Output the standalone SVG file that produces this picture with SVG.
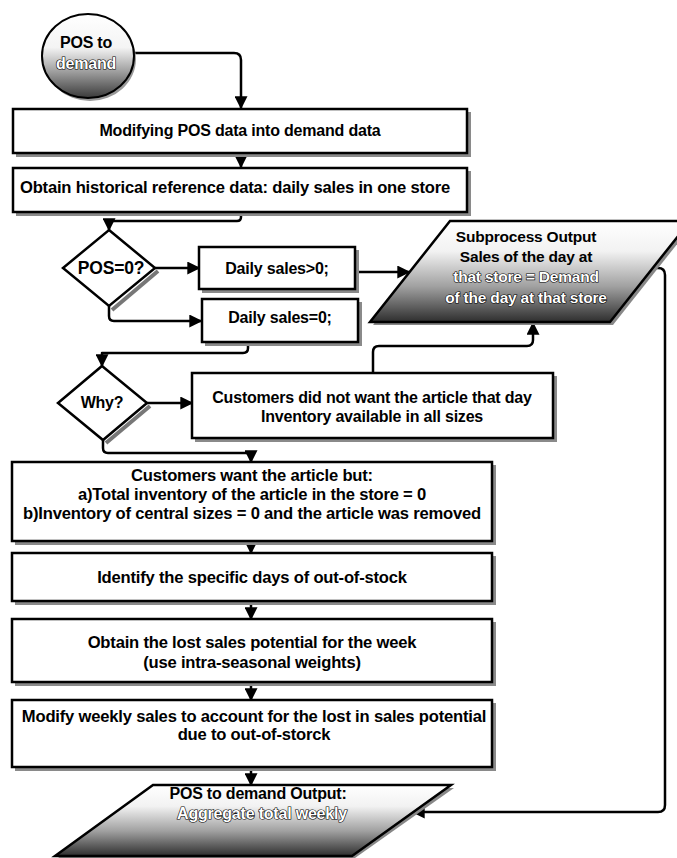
<svg xmlns="http://www.w3.org/2000/svg" width="677" height="858" viewBox="0 0 677 858">
<style>
  .box { fill: #ffffff; stroke: #000; stroke-width: 2.5; }
  .shadow { fill: #8a8a8a; stroke: none; }
  .dia { fill: #ffffff; stroke: #000; stroke-width: 2.5; stroke-linejoin: miter; }
  .dshadow { fill: none; stroke: #777; stroke-width: 4; }
  .t { font-family: "Liberation Sans", Arial, sans-serif; font-weight: bold; font-size: 16px; fill: #000; text-anchor: middle; letter-spacing: -0.2px; }
  .lg { font-size: 16.6px; }
  .inv { fill: #fff; stroke: #000; stroke-width: 1.2px; paint-order: stroke; }
  .conn { fill: none; stroke: #000; stroke-width: 2.5; stroke-linejoin: round; }
</style>
<defs>
  <marker id="arr" viewBox="0 0 10 10" markerWidth="13" markerHeight="13" refX="9" refY="5" orient="auto" markerUnits="userSpaceOnUse">
    <path d="M0,0 L10,5 L0,10 z" fill="#000"/>
  </marker>
  <linearGradient id="gPar" x1="0" y1="0" x2="0" y2="1">
    <stop offset="0" stop-color="#ffffff"/>
    <stop offset="0.3" stop-color="#f2f2f2"/>
    <stop offset="0.65" stop-color="#a0a0a0"/>
    <stop offset="1" stop-color="#2e2e2e"/>
  </linearGradient>
  <linearGradient id="gCirc" x1="0" y1="0" x2="0" y2="1">
    <stop offset="0" stop-color="#ffffff"/>
    <stop offset="0.4" stop-color="#f4f4f4"/>
    <stop offset="0.7" stop-color="#9a9a9a"/>
    <stop offset="1" stop-color="#3a3a3a"/>
  </linearGradient>
</defs>
<rect width="677" height="858" fill="#ffffff"/>

<g id="connectors">
  <path class="conn" d="M134,53 H234 Q241,53 241,60 V108" marker-end="url(#arr)"/>
  <path class="conn" d="M241,153 V167" marker-end="url(#arr)"/>
  <path class="conn" d="M241,212 V217 Q241,221 237,221 H109 V230" marker-end="url(#arr)"/>
  <path class="conn" d="M155,268 H199" marker-end="url(#arr)"/>
  <path class="conn" d="M109,306 V316 Q109,321 114,321 H201" marker-end="url(#arr)"/>
  <path class="conn" d="M355,272 H409" marker-end="url(#arr)"/>
  <path class="conn" d="M248,342 V348 Q248,353 243,353 H102 V366" marker-end="url(#arr)"/>
  <path class="conn" d="M147,403 H192" marker-end="url(#arr)"/>
  <path class="conn" d="M373,373 V352 Q373,346 379,346 H527 Q533,346 533,340 V323" marker-end="url(#arr)"/>
  <path class="conn" d="M103,440 V448 Q103,453 108,453 H246 Q251,453 251,458 V462" marker-end="url(#arr)"/>
  <path class="conn" d="M251,541 V553" marker-end="url(#arr)"/>
  <path class="conn" d="M251,601 V619" marker-end="url(#arr)"/>
  <path class="conn" d="M251,682 V700" marker-end="url(#arr)"/>
  <path class="conn" d="M251,767 V785" marker-end="url(#arr)"/>
  <path class="conn" d="M652,268 H658 Q665,268 665,275 V805 Q665,812 658,812 H413" marker-end="url(#arr)"/>
</g>

<g id="start">
  <ellipse cx="90" cy="59" rx="46" ry="42" fill="#999"/>
  <ellipse cx="88" cy="56" rx="46" ry="42" fill="url(#gCirc)" stroke="#000" stroke-width="2"/>
  <text class="t" x="86" y="48">POS to</text>
  <text class="t inv" x="86" y="69">demand</text>
</g>

<g id="modify-pos">
  <rect class="shadow" x="16" y="112" width="455" height="45"/>
  <rect class="box" x="13" y="109" width="454" height="44"/>
  <text class="t" x="240" y="136">Modifying POS data into demand data</text>
</g>

<g id="obtain-hist">
  <rect class="shadow" x="16" y="171" width="455" height="45"/>
  <rect class="box" x="13" y="168" width="454" height="44"/>
  <text class="t lg" x="235" y="193">Obtain historical reference data: daily sales in one store</text>
</g>

<g id="pos-zero">
  <path class="dshadow" d="M158,271 L112,310"/>
  <polygon class="dia" points="109,230 155,268 109,306 63,268"/>
  <text class="t" x="111" y="274" style="font-size:17.5px">POS=0?</text>
</g>

<g id="sales-gt0">
  <rect class="shadow" x="202" y="250" width="157" height="43"/>
  <rect class="box" x="199" y="247" width="156" height="42"/>
  <text class="t" x="277" y="274">Daily sales&gt;0;</text>
</g>

<g id="sales-eq0">
  <rect class="shadow" x="205" y="302" width="157" height="44"/>
  <rect class="box" x="202" y="299" width="156" height="43"/>
  <text class="t" x="280" y="323">Daily sales=0;</text>
</g>

<g id="subprocess-output">
  <polygon points="453,224 693,224 613,325 373,325" fill="#888"/>
  <polygon points="450,221 690,221 610,322 370,322" fill="url(#gPar)" stroke="#000" stroke-width="2.5"/>
  <text class="t" x="526" y="242" style="font-size:15.5px">Subprocess Output</text>
  <text class="t" x="526" y="262" style="font-size:15.5px">Sales of the day at</text>
  <text class="t inv" x="526" y="282" style="font-size:15.5px">that store = Demand</text>
  <text class="t inv" x="526" y="303" style="font-size:15.5px">of the day at that store</text>
</g>

<g id="why">
  <path class="dshadow" d="M150,406 L106,443"/>
  <polygon class="dia" points="102,366 147,403 103,440 58,403"/>
  <text class="t" x="102" y="408">Why?</text>
</g>

<g id="not-want">
  <rect class="shadow" x="195" y="376" width="362" height="66"/>
  <rect class="box" x="192" y="373" width="361" height="65"/>
  <text class="t" x="372" y="403">Customers did not want the article that day</text>
  <text class="t" x="372" y="422">Inventory available in all sizes</text>
</g>

<g id="want">
  <rect class="shadow" x="15" y="465" width="481" height="80"/>
  <rect class="box" x="12" y="462" width="480" height="79"/>
  <text class="t lg" x="252" y="481">Customers want the article but:</text>
  <text class="t lg" x="252" y="500">a)Total inventory of the article in the store = 0</text>
  <text class="t lg" x="252" y="519">b)Inventory of central sizes = 0 and the article was removed</text>
</g>

<g id="identify">
  <rect class="shadow" x="15" y="556" width="481" height="49"/>
  <rect class="box" x="12" y="553" width="480" height="48"/>
  <text class="t lg" x="252" y="583">Identify the specific days of out-of-stock</text>
</g>

<g id="lost-potential">
  <rect class="shadow" x="15" y="622" width="481" height="64"/>
  <rect class="box" x="12" y="619" width="480" height="63"/>
  <text class="t lg" x="252" y="648">Obtain the lost sales potential for the week</text>
  <text class="t lg" x="252" y="668">(use intra-seasonal weights)</text>
</g>

<g id="modify-weekly">
  <rect class="shadow" x="15" y="703" width="481" height="68"/>
  <rect class="box" x="12" y="700" width="480" height="67"/>
  <text class="t lg" x="254" y="722">Modify weekly sales to account for the lost in sales potential</text>
  <text class="t lg" x="254" y="740">due to out-of-storck</text>
</g>

<g id="pos-output">
  <polygon points="156,788 454,788 355,858 58,858" fill="#888"/>
  <polygon points="153,785 451,785 352,856 55,856" fill="url(#gPar)" stroke="#000" stroke-width="2.5"/>
  <text class="t" x="258" y="799">POS  to demand Output:</text>
  <text class="t inv" x="262" y="819">Aggregate total weekly</text>
</g>
</svg>
